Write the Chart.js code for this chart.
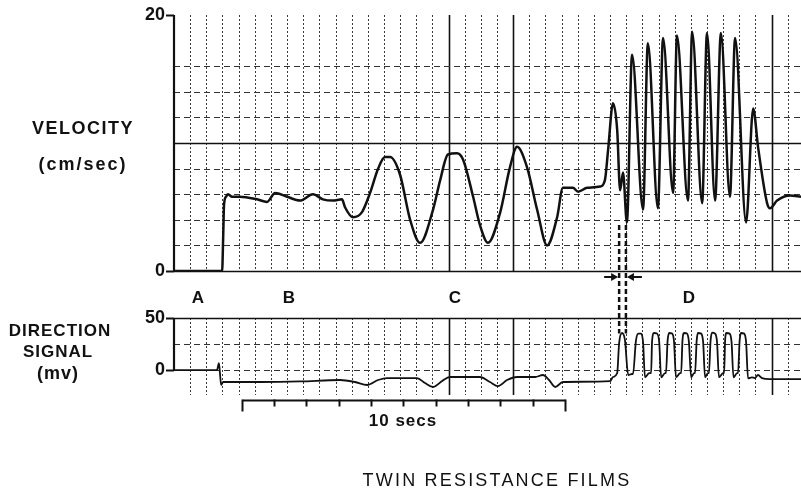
<!DOCTYPE html>
<html>
<head>
<meta charset="utf-8">
<title>Twin resistance films</title>
<script src="https://cdn.jsdelivr.net/npm/chart.js@4.4.0/dist/chart.umd.min.js"></script>
<style>
  body { margin: 0; background: #fff; }
  #wrap { position: relative; width: 801px; height: 492px; overflow: hidden;
          font-family: "Liberation Sans", Arial, sans-serif; color: #111; }
  #wrap canvas { position: absolute; left: 0; top: 0; }
  .lbl { position: absolute; transform: translate(-50%, -50%); white-space: nowrap;
         line-height: 1; font-weight: bold; font-size: 17px; }
</style>
</head>
<body>
<div id="wrap">
  <canvas id="velChart" width="801" height="492"></canvas>
  <canvas id="dirChart" width="801" height="492"></canvas>

  <div class="lbl" style="left:83px;top:128px;font-size:18px;letter-spacing:1.5px">VELOCITY</div>
  <div class="lbl" style="left:83px;top:164px;font-size:18px;letter-spacing:2px">(cm/sec)</div>
  <div class="lbl" style="left:60px;top:330px;letter-spacing:1px">DIRECTION</div>
  <div class="lbl" style="left:58px;top:351px;letter-spacing:1px">SIGNAL</div>
  <div class="lbl" style="left:58px;top:373px;font-size:18px;letter-spacing:1px">(mv)</div>

  <div class="lbl" style="left:198px;top:297px">A</div>
  <div class="lbl" style="left:289px;top:297px">B</div>
  <div class="lbl" style="left:455px;top:297px">C</div>
  <div class="lbl" style="left:689px;top:297px">D</div>

  <div class="lbl" style="left:403px;top:420px;letter-spacing:1px">10 secs</div>
  <div class="lbl" style="left:497px;top:480px;font-weight:normal;font-size:18px;letter-spacing:2.2px">TWIN RESISTANCE FILMS</div>
</div>

<script>
// velocity record, time in seconds from the left edge of the strip
const velTime = [0, 1.49, 1.52, 1.55, 1.61, 1.67, 1.80, 2.04, 2.57, 2.88, 3.13, 3.50, 3.90, 4.30, 4.61,
  4.92, 5.20, 5.29, 5.54, 5.82, 6.07, 6.32, 6.53, 6.69, 7.00, 7.31, 7.62, 8.02, 8.24, 8.48, 8.76,
  8.95, 9.26, 9.47, 9.72, 10.09, 10.40, 10.62, 10.93, 11.24, 11.55, 11.86, 12.04, 12.35, 12.51,
  12.79, 13.19, 13.34, 13.44, 13.59, 13.72, 13.81, 13.90, 14.02, 14.18, 14.52, 14.67, 14.98,
  15.14, 15.45, 15.57, 15.91, 16.04, 16.35, 16.50, 16.75, 16.93, 17.21, 17.37, 17.71, 17.93,
  18.08, 18.36, 18.45, 18.67, 19.07, 19.41];
const velocity = [0, 0, 2.4, 5.2, 5.8, 6.0, 5.8, 5.8, 5.6, 5.4, 6.1, 5.8, 5.5, 6.0, 5.6,
  5.5, 5.6, 5.0, 4.2, 4.6, 6.1, 8.0, 8.9, 8.9, 7.5, 4.0, 2.2, 4.8, 7.1, 9.1, 9.2,
  8.7, 5.8, 3.6, 2.2, 4.5, 8.1, 9.7, 8.1, 4.8, 2.0, 4.2, 6.5, 6.5, 6.2,
  6.5, 6.6, 7.1, 9.5, 13.1, 11.0, 6.3, 7.7, 3.8, 16.9, 4.8, 17.8, 4.9,
  18.2, 6.1, 18.4, 5.5, 18.7, 5.3, 18.6, 5.5, 18.6, 5.8, 18.2, 3.8, 12.7,
  9.7, 5.3, 4.9, 5.5, 5.9, 5.8];

// direction signal (mv) on the same time base
const dirTime = [0, 1.33, 1.39, 1.42, 1.46, 1.52, 2.66, 3.90, 5.14, 5.60, 5.98, 6.32, 6.59, 7.52,
  7.77, 8.02, 8.30, 8.54, 9.47, 9.78, 10.03, 10.31, 10.62, 11.18, 11.42, 11.61, 11.80, 12.04,
  13.50, 13.59, 13.72, 13.78, 13.87, 13.96, 14.06, 14.18,
  14.21, 14.30, 14.37, 14.46, 14.52, 14.58, 14.71,
  14.77, 14.80, 14.86, 14.95, 15.02, 15.08, 15.20,
  15.23, 15.28, 15.33, 15.42, 15.48, 15.54, 15.67,
  15.70, 15.74, 15.79, 15.88, 15.94, 16.01, 16.10,
  16.13, 16.18, 16.22, 16.32, 16.38, 16.44, 16.53,
  16.56, 16.61, 16.66, 16.75, 16.81, 16.87, 17.00,
  17.03, 17.06, 17.10, 17.20, 17.26, 17.32, 17.43,
  17.46, 17.51, 17.55, 17.65, 17.71, 17.77,
  17.89, 17.98, 18.08, 18.20, 18.45, 19.41];
const direction = [0, 0, 6.7, -2, -14.4, -11.5, -11.5, -11, -9.6, -11.5, -14.4, -9.6, -7.7, -7.7,
  -12.5, -16.3, -10.6, -6.7, -6.7, -11.5, -15.4, -9.6, -6.7, -6.7, -4.8, -9.6, -16.3, -11.5,
  -10.6, -6.7, -2.9, 26, 35.6, 28.8, -4.8, -3.8,
  -3.8, 28, 35, 35, 27, -7, -3,
  -3, 28, 35.6, 35, 27, -7, -3,
  -3, 28, 35.6, 35, 27, -7, -3,
  -3, 28, 35.6, 35, 27, -7, -3,
  -3, 28, 35.6, 35, 27, -7, -3,
  -3, 28, 36, 35, 27, -7, -3,
  -3, 28, 35.6, 35, 27, -7, -3,
  -3, 28, 35.6, 35, 27, -8,
  -7, -7.7, -4.8, -7.7, -8.7, -8.7];

const velTicks = [0, 20];
const dirTicks = [0, 50];
const velDashed = [2, 4, 6, 8, 12, 14, 16];
const velSolid = [0, 10];
const dirDashed = [0, 25];
const dirSolid = [50];
const timeStep = 0.5;                  // chart paper divisions
const heavyLines = [8.5, 10.5, 18.5];
const markerTimes = [13.78, 13.99];    // the two dashed time markers
const markerVel = 3.6;
const markerDir = 35;
const barStart = 2.1;
const barSeconds = [0, 1, 2, 3, 4, 5, 6, 7, 8, 9, 10];
const tMax = 19.41;

const INK = '#111';
const FONT = '"Liberation Sans", Arial, sans-serif';

// grid of the chart paper plus the left bracket of each trace
const paperGrid = {
  id: 'paperGrid',
  beforeDatasetsDraw(chart, args, opts) {
    const { ctx, chartArea: a, scales: { x, y } } = chart;
    ctx.save();
    for (let k = 1; k * timeStep < x.max; k++) {
      const t = k * timeStep;
      const px = Math.round(x.getPixelForValue(t)) + 0.5;
      const heavy = heavyLines.includes(t);
      ctx.beginPath();
      ctx.setLineDash(heavy ? [] : [2, 2]);
      ctx.lineWidth = heavy ? 1.6 : 1;
      ctx.strokeStyle = heavy ? INK : '#3a3a3a';
      ctx.moveTo(px, a.top);
      ctx.lineTo(px, a.bottom);
      ctx.stroke();
    }
    opts.dashed.forEach(v => {
      const py = Math.round(y.getPixelForValue(v)) + 0.5;
      ctx.beginPath();
      ctx.setLineDash([6, 4]);
      ctx.lineWidth = 1;
      ctx.strokeStyle = '#333';
      ctx.moveTo(a.left, py);
      ctx.lineTo(a.right, py);
      ctx.stroke();
    });
    opts.solid.forEach(v => {
      const py = Math.round(y.getPixelForValue(v)) + 0.5;
      ctx.beginPath();
      ctx.setLineDash([]);
      ctx.lineWidth = 1.6;
      ctx.strokeStyle = INK;
      ctx.moveTo(a.left, py);
      ctx.lineTo(a.right, py);
      ctx.stroke();
    });
    ctx.beginPath();
    ctx.setLineDash([]);
    ctx.lineWidth = 2.2;
    ctx.strokeStyle = INK;
    ctx.moveTo(a.left, y.getPixelForValue(opts.bracket[0]));
    ctx.lineTo(a.left, y.getPixelForValue(opts.bracket[1]));
    ctx.stroke();
    ctx.restore();
  }
};

function yScale(min, max, ticks) {
  return {
    min: min, max: max,
    afterBuildTicks: s => { s.ticks = ticks.map(v => ({ value: v })); },
    afterFit: s => { s.width = 174; },
    border: { display: false },
    grid: { drawOnChartArea: false, drawTicks: true, tickLength: 8, tickWidth: 2, tickColor: INK },
    ticks: { color: INK, padding: 1, font: { family: FONT, size: 18, weight: 'bold' } }
  };
}

function options(min, max, ticks, pad, grid) {
  return {
    responsive: false,
    animation: false,
    layout: { padding: { top: pad[0], bottom: pad[1], left: 0, right: 0 } },
    elements: { point: { radius: 0 }, line: { cubicInterpolationMode: 'monotone' } },
    scales: {
      x: { type: 'linear', min: 0, max: tMax, display: false },
      y: yScale(min, max, ticks)
    },
    plugins: { legend: { display: false }, tooltip: { enabled: false }, paperGrid: grid }
  };
}

const velChart = new Chart(document.getElementById('velChart'), {
  type: 'line',
  data: {
    datasets: [{
      data: velTime.map((t, i) => ({ x: t, y: velocity[i] })),
      borderColor: INK, borderWidth: 2.5, fill: false
    }]
  },
  options: options(0, 20, velTicks, [15, 221], { dashed: velDashed, solid: velSolid, bracket: [0, 20] }),
  plugins: [paperGrid]
});

// time markers, arrows and the 10 second bar, drawn with the direction chart's x scale
const recordMarks = {
  id: 'recordMarks',
  afterDatasetsDraw(chart) {
    const { ctx, chartArea: a, scales: { x, y } } = chart;
    const vy = velChart.scales.y;
    ctx.save();
    ctx.strokeStyle = INK;
    ctx.fillStyle = INK;

    const xs = markerTimes.map(t => x.getPixelForValue(t));
    ctx.setLineDash([5, 3]);
    ctx.lineWidth = 2.5;
    xs.forEach(px => {
      ctx.beginPath();
      ctx.moveTo(px, vy.getPixelForValue(markerVel));
      ctx.lineTo(px, y.getPixelForValue(markerDir));
      ctx.stroke();
    });

    ctx.setLineDash([]);
    ctx.lineWidth = 2;
    const ay = velChart.chartArea.bottom + 6;
    const arrow = (from, to) => {
      const dir = Math.sign(to - from);
      ctx.beginPath();
      ctx.moveTo(from, ay);
      ctx.lineTo(to - dir * 4, ay);
      ctx.stroke();
      ctx.beginPath();
      ctx.moveTo(to, ay);
      ctx.lineTo(to - dir * 7, ay - 4);
      ctx.lineTo(to - dir * 7, ay + 4);
      ctx.closePath();
      ctx.fill();
    };
    arrow(xs[0] - 15, xs[0] - 1);
    arrow(xs[1] + 16, xs[1] + 1);

    const by = a.bottom + 5.5;
    const bx = barSeconds.map(s => Math.round(x.getPixelForValue(barStart + s)) + 0.5);
    ctx.lineWidth = 2;
    ctx.beginPath();
    ctx.moveTo(bx[0], by);
    ctx.lineTo(bx[bx.length - 1], by);
    ctx.stroke();
    bx.forEach((px, i) => {
      const end = i === 0 || i === bx.length - 1;
      ctx.beginPath();
      ctx.moveTo(px, by - 1);
      ctx.lineTo(px, by + (end ? 11 : 6));
      ctx.stroke();
    });
    ctx.restore();
  }
};

new Chart(document.getElementById('dirChart'), {
  type: 'line',
  data: {
    datasets: [{
      data: dirTime.map((t, i) => ({ x: t, y: direction[i] })),
      borderColor: INK, borderWidth: 1.8, fill: false
    }]
  },
  options: options(-24, 50, dirTicks, [318, 97], { dashed: dirDashed, solid: dirSolid, bracket: [0, 50] }),
  plugins: [paperGrid, recordMarks]
});
</script>
</body>
</html>
